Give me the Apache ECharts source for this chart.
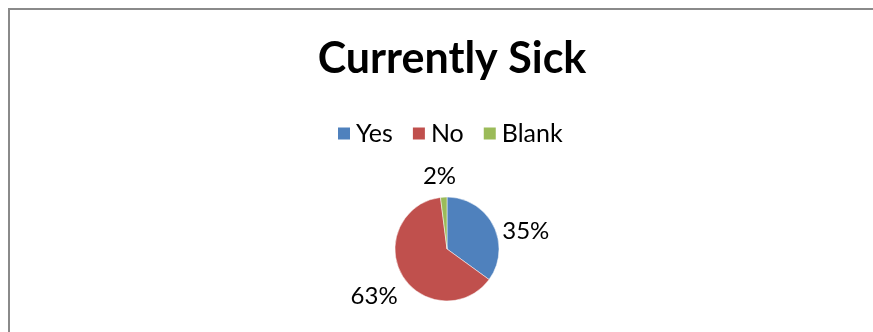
<!DOCTYPE html>
<html>
<head>
<meta charset="utf-8">
<script src="https://cdn.jsdelivr.net/npm/echarts@6/dist/echarts.min.js"></script>
<style>
html,body{margin:0;padding:0;background:#fff;overflow:hidden;}
#frame{position:absolute;left:8px;top:8px;width:900px;height:340px;border:2px solid #8a8a8a;box-sizing:border-box;}
#chart{position:absolute;left:0;top:0;width:873px;height:332px;}
</style>
</head>
<body>
<div id="frame"></div>
<div id="chart"></div>
<script>
const titleText = "Currently Sick";
const categories = ["Yes", "No", "Blank"];
const values = [35, 63, 2];
const colors = ["#4f81bd", "#c0504d", "#9bbb59"];
const labelShift = [[-5, 10], [9, 16], [18, -11]];

const chart = echarts.init(document.getElementById('chart'), null, {renderer: 'canvas'});
chart.setOption({
  animation: false,
  title: {
    text: titleText,
    left: 447,
    textAlign: 'center',
    top: 33,
    textStyle: {fontFamily: 'Lato', fontWeight: 'bold', fontSize: 43, color: '#000'}
  },
  legend: {
    data: categories,
    top: 116,
    left: 331,
    icon: 'rect',
    itemWidth: 14,
    itemHeight: 14,
    itemGap: 18,
    textStyle: {fontFamily: 'Lato', fontSize: 25, color: '#000', padding: [0, 0, 0, 0]}
  },
  series: [{
    type: 'pie',
    center: [447, 249],
    radius: 52,
    startAngle: 90,
    clockwise: true,
    data: categories.map((c, i) => ({name: c, value: values[i], itemStyle: {color: colors[i]}})),
    itemStyle: {borderColor: '#fff', borderWidth: 0.5},
    label: {
      show: true,
      position: 'outside',
      formatter: p => Math.round(p.percent) + '%',
      fontFamily: 'Lato',
      fontSize: 24,
      color: '#000'
    },
    labelLine: {show: false, length: 10, length2: 0},
    labelLayout: p => ({dx: labelShift[p.dataIndex][0], dy: labelShift[p.dataIndex][1]})
  }]
});
</script>
</body>
</html>
